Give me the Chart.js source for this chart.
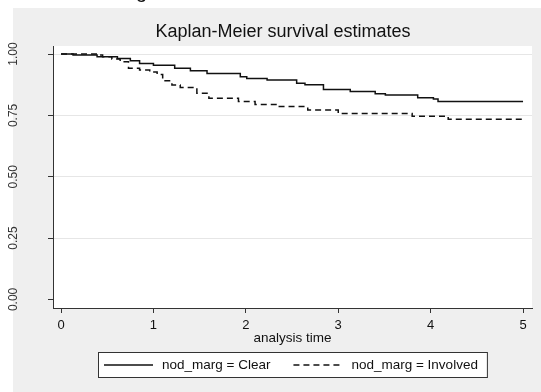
<!DOCTYPE html>
<html>
<head>
<meta charset="utf-8">
<title>Kaplan-Meier survival estimates</title>
<script src="https://cdn.jsdelivr.net/npm/chart.js@4.4.1/dist/chart.umd.min.js"></script>
<style>
  html, body { margin: 0; padding: 0; background: #fff; }
  canvas { display: block; }
</style>
</head>
<body>
<canvas id="km" width="541" height="392"></canvas>
<script>
// survival steps: time of each drop and the estimate right after it
const clearTime = [0, 0.13, 0.39, 0.61, 0.75, 0.85, 1.00, 1.23, 1.40, 1.58, 1.94, 2.01, 2.23, 2.55, 2.64, 2.84, 3.13, 3.40, 3.51, 3.86, 4.03, 4.08, 5.00];
const clearSurv = [1, 0.996, 0.989, 0.982, 0.973, 0.962, 0.955, 0.942, 0.932, 0.921, 0.908, 0.901, 0.894, 0.881, 0.875, 0.856, 0.848, 0.838, 0.833, 0.822, 0.817, 0.807, 0.807];

const involvedTime = [0, 0.42, 0.45, 0.55, 0.64, 0.73, 0.85, 0.96, 1.04, 1.10, 1.20, 1.29, 1.47, 1.60, 1.92, 2.10, 2.35, 2.67, 3.00, 3.80, 4.19, 5.00];
const involvedSurv = [1, 0.996, 0.989, 0.980, 0.969, 0.942, 0.935, 0.927, 0.917, 0.891, 0.874, 0.864, 0.840, 0.820, 0.807, 0.795, 0.786, 0.772, 0.758, 0.747, 0.734, 0.734];

const groupLabels = ['nod_marg = Clear', 'nod_marg = Involved'];
const xTicks = [0, 1, 2, 3, 4, 5];
const yTicks = [0, 0.25, 0.5, 0.75, 1];
const yTickLabels = ['0.00', '0.25', '0.50', '0.75', '1.00'];

const FONT = '"Liberation Sans", Arial, Helvetica, sans-serif';
const INK = '#111111';

const toPoints = (ts, ss) => ts.map((t, i) => ({ x: t, y: ss[i] }));

// gray frame, white plot region, title, vertical y labels and boxed legend
const stataFrame = {
  id: 'stataFrame',
  beforeDraw(chart) {
    const { ctx, chartArea: a, width, height } = chart;
    ctx.save();
    ctx.fillStyle = '#ffffff';
    ctx.fillRect(0, 0, width, height);
    ctx.fillStyle = '#efefef';
    ctx.fillRect(13, 8, width - 13, height - 8);
    ctx.fillStyle = '#ffffff';
    ctx.fillRect(a.left, a.top, a.right - a.left, a.bottom - a.top);
    // tail of the page heading above the graph
    ctx.fillStyle = INK;
    ctx.font = '20px ' + FONT;
    ctx.textBaseline = 'alphabetic';
    ctx.fillText('g', 136, -2);
    ctx.restore();
  },
  afterDraw(chart) {
    const { ctx, chartArea: a } = chart;
    const ys = chart.scales.y;
    ctx.save();

    // title
    ctx.fillStyle = INK;
    ctx.font = '18px ' + FONT;
    ctx.textAlign = 'center';
    ctx.textBaseline = 'alphabetic';
    ctx.fillText('Kaplan-Meier survival estimates', 283, 37);

    // y tick labels, read bottom to top
    ctx.font = '12px ' + FONT;
    ctx.fillStyle = '#333';
    yTicks.forEach((v, i) => {
      ctx.save();
      ctx.translate(17, ys.getPixelForValue(v));
      ctx.rotate(-Math.PI / 2);
      ctx.fillText(yTickLabels[i], 0, 0);
      ctx.restore();
    });

    // legend
    ctx.font = '13.5px ' + FONT;
    const sample = 49, gapText = 9, gapItem = 23, padL = 6, padR = 9;
    const ds = chart.data.datasets;
    const widths = ds.map(d => ctx.measureText(d.label).width);
    let boxW = padL + padR;
    widths.forEach((w, i) => { boxW += sample + gapText + w + (i ? gapItem : 0); });
    const boxH = 25, boxTop = 352;
    const boxLeft = Math.round((a.left + a.right) / 2 - boxW / 2);
    ctx.fillStyle = '#ffffff';
    ctx.fillRect(boxLeft, boxTop, boxW, boxH);
    ctx.strokeStyle = '#333';
    ctx.lineWidth = 1;
    ctx.strokeRect(boxLeft + 0.5, boxTop + 0.5, boxW, boxH);

    const midY = boxTop + boxH / 2 + 0.5;
    let x = boxLeft + padL;
    ds.forEach((d, i) => {
      ctx.beginPath();
      ctx.setLineDash(d.borderDash || []);
      ctx.strokeStyle = d.borderColor;
      ctx.lineWidth = d.borderWidth;
      ctx.moveTo(x, midY);
      ctx.lineTo(x + sample, midY);
      ctx.stroke();
      ctx.setLineDash([]);
      x += sample + gapText;
      ctx.fillStyle = INK;
      ctx.textAlign = 'left';
      ctx.textBaseline = 'middle';
      ctx.fillText(d.label, x, midY);
      x += widths[i] + gapItem;
    });
    ctx.restore();
  }
};

new Chart(document.getElementById('km'), {
  type: 'line',
  data: {
    datasets: [
      {
        label: groupLabels[0],
        data: toPoints(clearTime, clearSurv),
        stepped: true,
        borderColor: INK,
        borderWidth: 1.5,
        pointRadius: 0,
        fill: false
      },
      {
        label: groupLabels[1],
        data: toPoints(involvedTime, involvedSurv),
        stepped: true,
        borderColor: INK,
        borderWidth: 1.5,
        borderDash: [6, 4],
        pointRadius: 0,
        fill: false
      }
    ]
  },
  options: {
    responsive: false,
    animation: false,
    layout: { padding: { left: 0, top: 46, right: 9, bottom: 0 } },
    plugins: {
      legend: { display: false },
      title: { display: false },
      tooltip: { enabled: false }
    },
    scales: {
      x: {
        type: 'linear',
        min: -0.087,
        max: 5.097,
        afterBuildTicks: s => { s.ticks = xTicks.map(v => ({ value: v })); },
        afterFit: s => { s.height = 84; },
        grid: { drawOnChartArea: false, tickLength: 5, tickColor: '#333', tickWidth: 1 },
        border: { display: true, color: '#333', width: 1 },
        ticks: { color: INK, font: { family: FONT, size: 13 }, padding: 5, maxRotation: 0 },
        title: {
          display: true,
          text: 'analysis time',
          color: INK,
          font: { family: FONT, size: 13.5 },
          padding: { top: 0, bottom: 46 }
        }
      },
      y: {
        type: 'linear',
        min: -0.035,
        max: 1.033,
        afterBuildTicks: s => { s.ticks = yTicks.map(v => ({ value: v })); },
        afterFit: s => { s.width = 53; },
        grid: {
          color: c => (c.tick && c.tick.value === 0 ? 'rgba(0,0,0,0)' : '#e6e6e6'),
          tickColor: '#333',
          tickLength: 5,
          lineWidth: 1
        },
        border: { display: true, color: '#333', width: 1 },
        ticks: { display: false }
      }
    }
  },
  plugins: [stataFrame]
});
</script>
</body>
</html>
